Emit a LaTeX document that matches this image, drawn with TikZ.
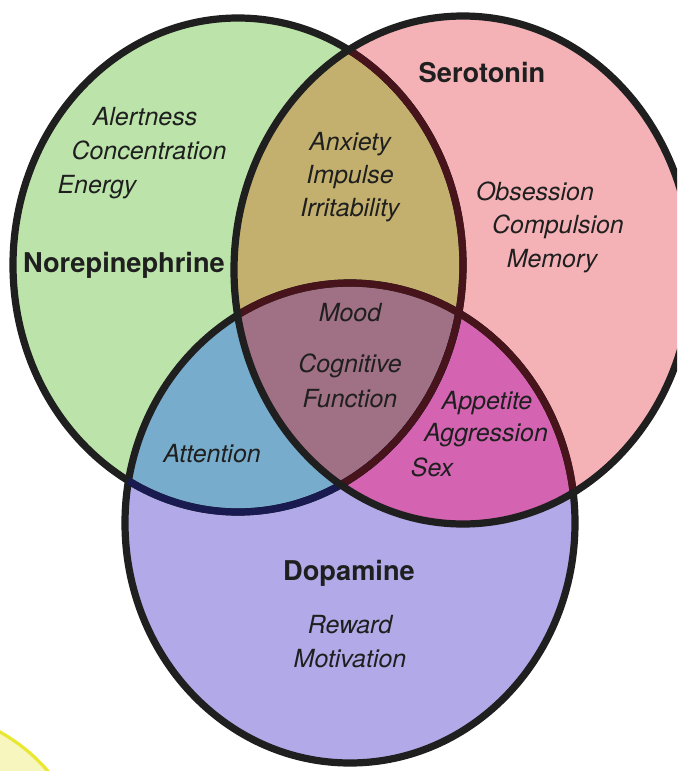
\documentclass[tikz,border=0pt]{standalone}
\usepackage{fontspec}
\setmainfont{TeX Gyre Heros}
\usepackage{tikz}
\usetikzlibrary{positioning}
\definecolor{neOnly}{RGB}{188,228,170}
\definecolor{seOnly}{RGB}{244,178,182}
\definecolor{daOnly}{RGB}{178,170,232}
\definecolor{neSe}{RGB}{196,176,110}
\definecolor{neDa}{RGB}{120,172,204}
\definecolor{seDa}{RGB}{212,100,178}
\definecolor{allThree}{RGB}{160,112,132}
\definecolor{navyLine}{RGB}{24,26,80}
\definecolor{maroonLine}{RGB}{70,20,26}
\definecolor{yellowFill}{RGB}{246,246,190}
\definecolor{yellowEdge}{RGB}{232,232,50}

\begin{document}
\begin{tikzpicture}[x=0.02cm, y=0.02cm,
    ring/.style = {line width=4.1pt, draw=black!88},
    effect/.style = {font=\fontsize{14.2}{19}\selectfont\itshape, text=black!88, inner sep=0pt, anchor=base},
    transmitter/.style = {font=\fontsize{15.5}{19}\selectfont\bfseries, text=black!88, inner sep=0pt, anchor=base}]
        % Circles
        \def\neCircle{(238,-265) ellipse [x radius=225, y radius=247]}
        \def\seCircle{(463,-270) ellipse [x radius=229, y radius=254]}
        \def\daCircle{(350,-523) ellipse [x radius=225, y radius=240]}

        \useasboundingbox (0,0) rectangle (677,-771);
        \clip (0,0) rectangle (677,-771);

        \filldraw[fill=yellowFill, draw=yellowEdge, line width=1.8pt] (-85,-885) circle [radius=175];

        % Fills
        \fill[neOnly] \neCircle;
        \fill[seOnly] \seCircle;
        \fill[daOnly] \daCircle;
        \begin{scope}
            \clip \neCircle;
            \fill[neSe] \seCircle;
            \fill[neDa] \daCircle;
        \end{scope}
        \begin{scope}
            \clip \seCircle;
            \fill[seDa] \daCircle;
            \clip \neCircle;
            \fill[allThree] \daCircle;
        \end{scope}

        % Outlines
        \draw[ring] \neCircle;
        \draw[ring] \daCircle;
        \begin{scope}
            \clip \daCircle;
            \draw[ring, draw=navyLine] \neCircle;
        \end{scope}
        \begin{scope}
            \clip \seCircle;
            \draw[ring, draw=maroonLine] \neCircle;
            \draw[ring, draw=maroonLine] \daCircle;
        \end{scope}
        \draw[ring] \seCircle;

        % Nodes
        \node[transmitter] (norepi) at (124,-272) {Norepinephrine};
        \node[effect] (alert) at (145,-125) {Alertness};
        \node[effect] (conc) at (149,-159) {Concentration};
        \node[effect] (energy) at (97,-193) {Energy};

        \node[transmitter] (sero) at (482,-82) {Serotonin};
        \node[effect] (obs) at (535,-200) {Obsession};
        \node[effect] (comp) at (558,-233) {Compulsion};
        \node[effect] (mem) at (552,-267) {Memory};

        \node[effect] (anx) at (350,-150) {Anxiety};
        \node[effect] (imp) at (350,-183) {Impulse};
        \node[effect] (irr) at (350,-216) {Irritability};

        \node[effect] (mood) at (350,-321) {Mood};
        \node[effect] (cog) at (350,-372) {Cognitive};
        \node[effect] (func) at (350,-407) {Function};

        \node[effect] (att) at (212,-462) {Attention};
        \node[effect] (app) at (487,-409) {Appetite};
        \node[effect] (aggr) at (486,-441) {Aggression};
        \node[effect] (sex) at (432,-476) {Sex};

        \node[transmitter] (dopa) at (349,-580) {Dopamine};
        \node[effect] (rew) at (350,-633) {Reward};
        \node[effect] (mot) at (350,-667) {Motivation};
    \end{tikzpicture}
\end{document}
